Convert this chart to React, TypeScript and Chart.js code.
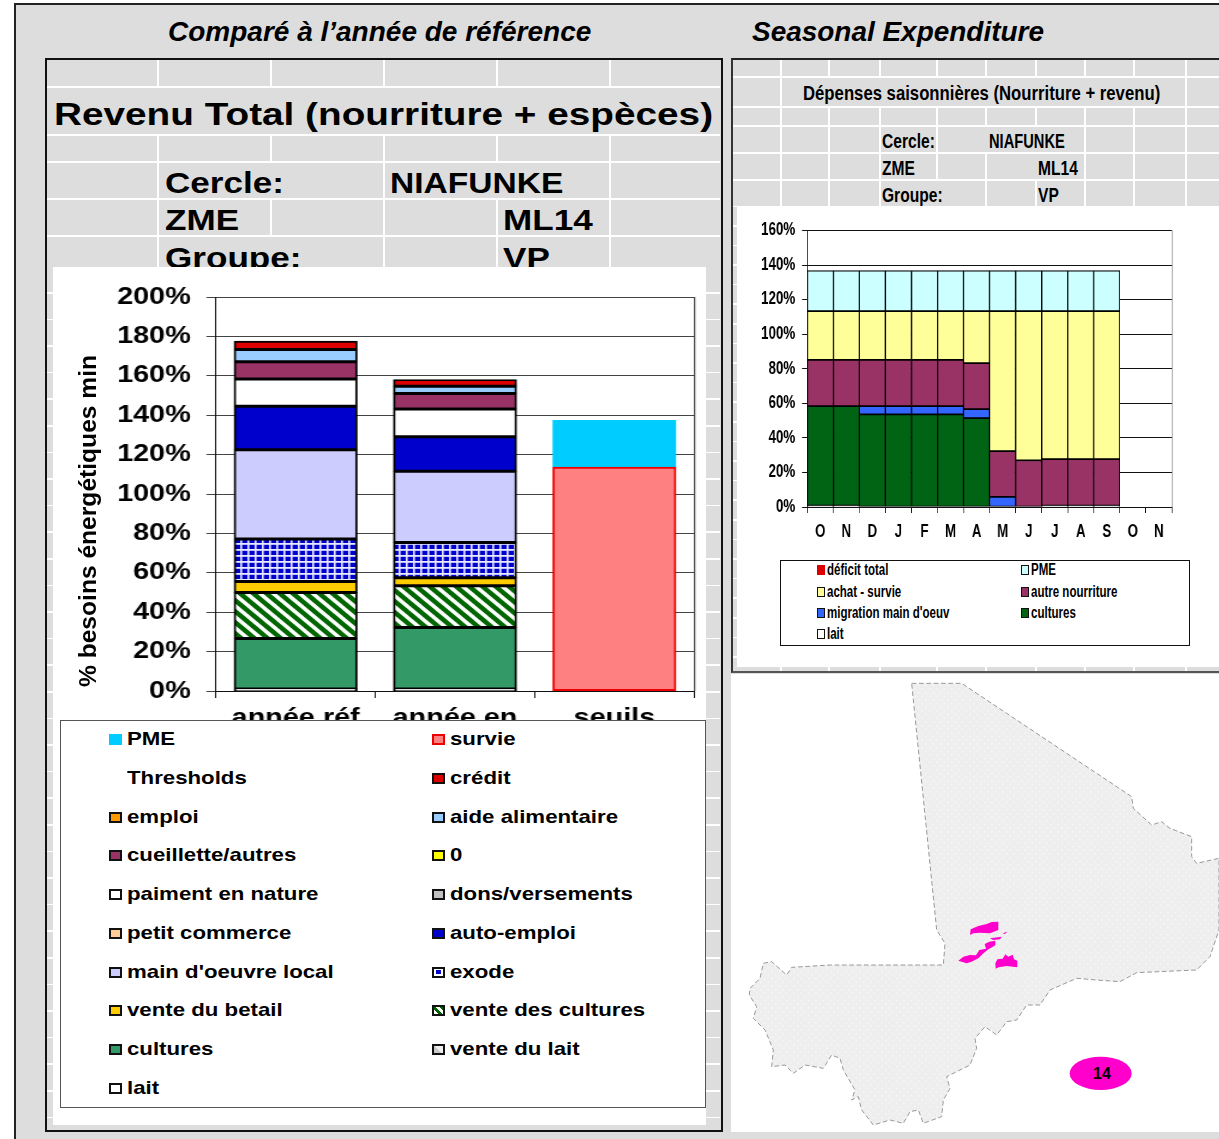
import React, { useEffect, useRef } from "react";
import { Chart, registerables } from "chart.js";

Chart.register(...registerables);

const FONT = "'Liberation Sans', Arial, sans-serif";

// ---------- left chart data ----------
const leftCategories = ["année réf", "année en", "seuils"];
const leftTicks = [0, 20, 40, 60, 80, 100, 120, 140, 160, 180, 200];
const lait = [1, 1, null];
const venteDuLait = [null, null, null];
const cultures = [25.6, 31.2, null];
const venteDesCultures = [23.4, 21.2, null];
const venteDuBetail = [5.6, 4.1, null];
const exode = [21.5, 17.9, null];
const mainOeuvre = [45.4, 36.1, null];
const petitCommerce = [null, null, null];
const autoEmploi = [22.1, 17.5, null];
const dons = [null, null, null];
const paiment = [13.8, 14.2, null];
const zero = [null, null, null];
const cueillette = [8.7, 7.8, null];
const aide = [6.2, 3.7, null];
const emploi = [null, null, null];
const credit = [4.3, 3.4, null];
const thresholds = [null, null, null];
const survie = [null, null, 113.6];
const pme = [null, null, 23.7];

// ---------- right chart data ----------
const months = ["O", "N", "D", "J", "F", "M", "A", "M", "J", "J", "A", "S", "O", "N"];
const rightTicks = [0, 20, 40, 60, 80, 100, 120, 140, 160];
const rLait = [0.8, 0.8, null, null, null, null, null, null, null, 0.8, 0.8, 0.8, null, null];
const rCultures = [57.6, 57.6, 53.6, 53.6, 53.6, 53.6, 51.4, null, null, null, null, null, null, null];
const rMigration = [null, null, 4.8, 4.8, 4.8, 4.8, 5.2, 5.8, null, null, null, null, null, null];
const rAutre = [26.8, 26.8, 26.8, 26.8, 26.8, 26.8, 26.6, 26.6, 27, 26.9, 26.9, 26.9, null, null];
const rAchat = [28.1, 28.1, 28.1, 28.1, 28.1, 28.1, 30.1, 80.9, 86.3, 85.6, 85.6, 85.6, null, null];
const rPme = [23.5, 23.5, 23.5, 23.5, 23.5, 23.5, 23.5, 23.5, 23.5, 23.5, 23.5, 23.5, null, null];
const rDeficit = months.map(() => null as number | null);

const GREEN_SWATCH = "linear-gradient(45deg,#fff 28%,#006600 28%,#006600 52%,#fff 52%,#fff 75%,#006600 75%)";
const EXODE_SWATCH = "linear-gradient(#0000cc,#0000cc) center/55% 60% no-repeat, #ffffff";
const LAIT_SWATCH = "linear-gradient(45deg,#c8c8c8 50%,#eeeeee 50%)";

type S = { label: string; data: (number | null)[]; color: string; swatch?: string; border?: string; pattern?: string };

// stacked from the bottom up; the legend reads the other way round
const leftSeries: S[] = [
  { label: "lait", data: lait, color: "#ffffff" },
  { label: "vente du lait", data: venteDuLait, color: "#c0c0c0", swatch: LAIT_SWATCH },
  { label: "cultures", data: cultures, color: "#339966" },
  { label: "vente des cultures", data: venteDesCultures, color: "#006600", swatch: GREEN_SWATCH, pattern: "diag" },
  { label: "vente du betail", data: venteDuBetail, color: "#ffcc00" },
  { label: "exode", data: exode, color: "#0000cc", swatch: EXODE_SWATCH, pattern: "grid" },
  { label: "main d'oeuvre local", data: mainOeuvre, color: "#ccccff" },
  { label: "auto-emploi", data: autoEmploi, color: "#0000cc" },
  { label: "petit commerce", data: petitCommerce, color: "#ffcc99" },
  { label: "dons/versements", data: dons, color: "#c0c0c0" },
  { label: "paiment en nature", data: paiment, color: "#ffffff" },
  { label: "0", data: zero, color: "#ffff00" },
  { label: "cueillette/autres", data: cueillette, color: "#993366" },
  { label: "aide alimentaire", data: aide, color: "#99ccff" },
  { label: "emploi", data: emploi, color: "#ff9900" },
  { label: "crédit", data: credit, color: "#dd0000" },
  { label: "Thresholds", data: thresholds, color: "transparent", border: "transparent" },
  { label: "survie", data: survie, color: "#ff8080", border: "#ee0000" },
  { label: "PME", data: pme, color: "#00ccff", border: "#00ccff" },
];

const rightSeries: S[] = [
  { label: "lait", data: rLait, color: "#ffffff" },
  { label: "cultures", data: rCultures, color: "#006414" },
  { label: "migration main d'oeuv", data: rMigration, color: "#3366ff" },
  { label: "autre nourriture", data: rAutre, color: "#993366" },
  { label: "achat - survie", data: rAchat, color: "#ffff99" },
  { label: "PME", data: rPme, color: "#ccffff" },
  { label: "déficit total", data: rDeficit, color: "#dd0000", border: "#dd0000" },
];

function makePattern(kind: string): CanvasPattern | string {
  const c = document.createElement("canvas");
  const ctx = c.getContext("2d")!;
  if (kind === "grid") {
    c.width = 6; c.height = 6;
    ctx.fillStyle = "#0000cc"; ctx.fillRect(0, 0, 6, 6);
    ctx.fillStyle = "#e8e8ff"; ctx.fillRect(0, 0, 1.6, 6); ctx.fillRect(0, 0, 6, 1.8);
  } else {
    c.width = 11; c.height = 11;
    ctx.fillStyle = "#006600"; ctx.fillRect(0, 0, 11, 11);
    ctx.strokeStyle = "#ffffff"; ctx.lineWidth = 3.4;
    for (const [a, b, d, e] of [[-2, -2, 13, 13], [-2, 9, 2, 13], [9, -2, 13, 2]]) {
      ctx.beginPath(); ctx.moveTo(a, b); ctx.lineTo(d, e); ctx.stroke();
    }
  }
  return ctx.createPattern(c, "repeat")!;
}

const rightEdge = (color: string) => ({
  id: "rightEdge",
  afterDatasetsDraw(chart: any) {
    const { ctx, chartArea: a } = chart;
    ctx.save(); ctx.strokeStyle = color; ctx.lineWidth = 1;
    ctx.beginPath(); ctx.moveTo(a.right + 0.5, a.top); ctx.lineTo(a.right + 0.5, a.bottom); ctx.stroke();
    ctx.restore();
  },
});

function buildChart(canvas: HTMLCanvasElement, cfg: {
  labels: string[]; series: S[]; ticks: number[]; max: number; size: number; bar: number; border: number; inflate: number;
  axisW: number; axisH: number; top: number; right: number; yTick: number; yPad: number; xTick: number; xPad: number; grid: string; edge: string;
}) {
  return new Chart(canvas, {
    type: "bar",
    data: {
      labels: cfg.labels,
      datasets: cfg.series.map((s) => ({
        label: s.label,
        data: s.data,
        backgroundColor: s.pattern ? makePattern(s.pattern) : s.color,
        borderColor: s.border ?? "#000000",
        borderWidth: cfg.border,
        borderSkipped: false,
        inflateAmount: cfg.inflate,
        barPercentage: cfg.bar,
        categoryPercentage: 1,
      })),
    } as any,
    options: {
      animation: false,
      responsive: false,
      maintainAspectRatio: false,
      devicePixelRatio: 1,
      layout: { padding: { top: cfg.top, right: cfg.right, left: 0, bottom: 0 } },
      plugins: { legend: { display: false }, title: { display: false }, tooltip: { enabled: false } },
      scales: {
        x: {
          stacked: true,
          grid: { drawOnChartArea: false, color: "#111", tickLength: cfg.xTick },
          border: { color: "#111" },
          ticks: { color: "#000", padding: cfg.xPad, maxRotation: 0, autoSkip: false, font: { family: FONT, weight: "bold", size: cfg.size } },
          afterFit: (s: any) => { s.height = cfg.axisH; },
        },
        y: {
          stacked: true,
          min: 0,
          max: cfg.max,
          grid: { color: cfg.grid, tickLength: cfg.yTick },
          border: { color: "#111" },
          afterBuildTicks: (s: any) => { s.ticks = cfg.ticks.map((v) => ({ value: v })); },
          ticks: { color: "#000", padding: cfg.yPad, callback: (v: any) => `${v}%`, font: { family: FONT, weight: "bold", size: cfg.size } },
          afterFit: (s: any) => { s.width = cfg.axisW; },
        },
      },
    } as any,
    plugins: [rightEdge(cfg.edge)],
  });
}

const abs = (left: number, top: number, width: number, height: number, extra: React.CSSProperties = {}): React.CSSProperties => ({
  position: "absolute", left, top, width, height, ...extra,
});

function T({ x, y, s, size, sx, italic }: { x: number; y: number; s: string; size: number; sx: number; italic?: boolean }) {
  // y = vertical centre of the line
  return (
    <span style={{
      position: "absolute", left: x, top: y - size * 0.6, height: size * 1.2, lineHeight: `${size * 1.2}px`,
      fontFamily: FONT, fontWeight: "bold", fontStyle: italic ? "italic" : "normal", fontSize: size, color: "#000",
      whiteSpace: "nowrap", transform: `scaleX(${sx})`, transformOrigin: "0 50%",
    }}>{s}</span>
  );
}

function Lines({ rows, x0, x1, w }: { rows: [number, number, number[]][]; x0: number; x1: number; w: number }) {
  const out: React.ReactNode[] = [];
  rows.forEach(([a, b, vs], i) => {
    out.push(<div key={`h${i}`} style={abs(x0, b - w / 2, x1 - x0, w, { background: "#fff" })} />);
    vs.forEach((v) => out.push(<div key={`v${i}-${v}`} style={abs(v - w / 2, a, w, b - a, { background: "#fff" })} />));
  });
  return <>{out}</>;
}

const LEFT_V = [158, 271, 384, 497, 610];
const RIGHT_V = [781, 829, 880, 937, 986, 1036, 1085, 1134, 1186];

const mapOutline = "545,10 695,10 1205,350 1210,385 1265,435 1295,425 1320,445 1385,470 1385,530 1400,550 1467,535 1467,750 1440,830 1400,870 1220,878 1170,905 1100,900 1040,895 960,930 930,975 890,975 860,1020 830,1025 800,1065 765,1040 735,1075 740,1105 720,1155 650,1190 660,1225 640,1260 635,1310 580,1330 565,1290 540,1295 520,1330 480,1320 430,1335 395,1290 385,1250 365,1260 375,1230 340,1170 330,1135 305,1125 280,1165 225,1155 190,1180 165,1155 125,1160 130,1110 105,1050 70,1015 80,980 58,945 60,925 90,895 100,850 125,845 170,885 185,862 300,855 640,855 645,790 620,750 545,10";
const zoneBlobs = [
  "720,765 722,748 745,738 770,732 785,726 805,725 805,750 780,760 750,758 730,760",
  "685,842 700,830 720,825 738,826 748,810 768,806 764,792 778,785 796,782 796,796 772,810 758,822 745,835 725,845 710,850",
  "797,866 796,850 802,838 818,836 826,823 835,830 848,824 852,838 862,842 862,862 830,858 806,862",
  "780,775 815,770 810,778 790,780",
  "818,760 832,755 825,762",
];

function Legend({ series, sx, size, colX, textGap, rowY, sw, bw }: { series: S[]; sx: number; size: number; colX: number[]; textGap: number; rowY: number[]; sw: [number, number]; bw: number }) {
  const items = [...series].reverse();
  return (
    <>
      {items.map((s, i) => {
        const col = i % 2, row = Math.floor(i / 2);
        const y = rowY[row], x = colX[col];
        const noBorder = s.border === s.color;
        const hidden = s.color === "transparent";
        return (
          <React.Fragment key={s.label}>
            {!hidden && (
              <div style={abs(x, y - sw[1] / 2, sw[0], sw[1], {
                boxSizing: "border-box",
                background: s.swatch ?? s.color,
                border: noBorder ? "none" : `${bw}px solid ${s.border && s.border !== "transparent" ? s.border : "#111"}`,
              })} />
            )}
            <T x={x + textGap} y={y} s={s.label} size={size} sx={sx} />
          </React.Fragment>
        );
      })}
    </>
  );
}

export default function App() {
  const leftRef = useRef<HTMLCanvasElement>(null);
  const rightRef = useRef<HTMLCanvasElement>(null);

  useEffect(() => {
    const a = buildChart(leftRef.current!, {
      labels: leftCategories, series: leftSeries, ticks: leftTicks, max: 200, size: 24, bar: 0.772, border: 1.9, inflate: 0.4,
      axisW: 135.8, axisH: 29, top: 30, right: 9.8, yTick: 8, yPad: 13, xTick: 7, xPad: 6, grid: "#444", edge: "#222",
    });
    const b = buildChart(rightRef.current!, {
      labels: months, series: rightSeries, ticks: rightTicks, max: 160, size: 17.5, bar: 1, border: 1.2, inflate: 0.33,
      axisW: 92.5, axisH: 40, top: 23.5, right: 61.8, yTick: 7, yPad: 9, xTick: 6, xPad: 9, grid: "#111", edge: "#777",
    });
    return () => { a.destroy(); b.destroy(); };
  }, []);

  return (
    <div style={{ position: "relative", width: 1219, height: 1139, overflow: "hidden", background: "#fff" }}>
      <style>{"html,body{margin:0;padding:0;overflow:hidden}"}</style>

      {/* outer sheet */}
      <div style={abs(14, 3, 1210, 1140, { background: "#dddddd", borderLeft: "2px solid #222", borderTop: "2px solid #222", boxSizing: "border-box" })} />
      <T x={168} y={32} s="Comparé à l’année de référence" size={27} sx={1.037} italic />
      <T x={752} y={32} s="Seasonal Expenditure" size={27} sx={1.035} italic />

      {/* left panel */}
      <div style={abs(45, 58, 678, 1074, { background: "#dddddd", border: "2px solid #111", boxSizing: "border-box" })} />
      <Lines x0={47} x1={720} w={2} rows={[
        [60, 87, LEFT_V], [87, 135, []], [135, 162, LEFT_V], [162, 199, [158, 384, 610]],
        [199, 236, LEFT_V], [236, 268, [158, 384, 497, 610]],
      ]} />
      <T x={54} y={114} s="Revenu Total (nourriture + espèces)" size={30.5} sx={1.27} />
      <T x={165} y={183} s="Cercle:" size={30} sx={1.17} />
      <T x={390} y={183} s="NIAFUNKE" size={30} sx={1.118} />
      <T x={165} y={220} s="ZME" size={30} sx={1.17} />
      <T x={503} y={220} s="ML14" size={30} sx={1.17} />
      <T x={165} y={258} s="Groupe:" size={30} sx={1.17} />
      <T x={503} y={258} s="VP" size={30} sx={1.17} />

      {/* left side strips and chart */}
      <div style={abs(47, 267, 6, 858, { background: "repeating-linear-gradient(180deg,#dddddd 0,#dddddd 25px,#fff 25px,#fff 26.6px)" })} />
      <div style={abs(706, 267, 14, 858, { background: "repeating-linear-gradient(180deg,#dddddd 0,#dddddd 25px,#fff 25px,#fff 26.6px)" })} />
      <div style={abs(53, 267, 653, 858, { background: "#fff" })} />
      <div style={abs(53, 267, 544.2, 453, { transform: "scaleX(1.2)", transformOrigin: "0 0" })}>
        <canvas ref={leftRef} width={544} height={453} style={{ display: "block" }} />
      </div>
      <span style={{
        position: "absolute", left: 88, top: 521, fontFamily: FONT, fontWeight: "bold", fontSize: 24.6, color: "#000", whiteSpace: "nowrap",
        lineHeight: "28px", transform: "translate(-50%,-50%) rotate(-90deg)",
      }}>% besoins énergétiques min</span>
      <div style={abs(60, 720, 646, 388, { background: "#fff", border: "1px solid #555", boxSizing: "border-box" })} />
      <Legend series={leftSeries} sx={1.17} size={19} colX={[109, 432]} textGap={18} sw={[13, 11]} bw={2}
        rowY={[739, 778, 817, 855, 894, 933, 972, 1010, 1049, 1088]} />

      {/* right panel */}
      <div style={abs(731, 58, 500, 615, { background: "#dddddd", borderLeft: "2px solid #333", borderTop: "2px solid #222", borderBottom: "2px solid #555", boxSizing: "border-box" })} />
      <Lines x0={733} x1={1219} w={1.5} rows={[
        [60, 77, RIGHT_V], [77, 107, [781, 1186]], [107, 126, RIGHT_V], [126, 153, [781, 829, 880, 937, 1085, 1134, 1186]],
        [153, 180, [781, 829, 880, 937, 986, 1085, 1134, 1186]], [180, 207, [781, 829, 880, 986, 1036, 1085, 1134, 1186]],
      ]} />
      {RIGHT_V.map((v) => <div key={v} style={abs(v - 0.75, 667, 1.5, 4, { background: "#fff" })} />)}
      <T x={803} y={93} s="Dépenses saisonnières (Nourriture + revenu)" size={21} sx={0.796} />
      <T x={882} y={141} s="Cercle:" size={20.5} sx={0.76} />
      <T x={989} y={141} s="NIAFUNKE" size={20.5} sx={0.716} />
      <T x={882} y={168} s="ZME" size={20.5} sx={0.76} />
      <T x={1038} y={168} s="ML14" size={20.5} sx={0.76} />
      <T x={882} y={195} s="Groupe:" size={20.5} sx={0.76} />
      <T x={1038} y={195} s="VP" size={20.5} sx={0.76} />
      <div style={abs(733, 207, 4, 460, { background: "repeating-linear-gradient(180deg,#dddddd 0,#dddddd 18px,#fff 18px,#fff 19.6px)" })} />
      <div style={abs(737, 207, 482, 460, { background: "#fff" })} />
      <div style={abs(737, 207, 634.2, 340, { transform: "scaleX(0.76)", transformOrigin: "0 0" })}>
        <canvas ref={rightRef} width={634} height={340} style={{ display: "block" }} />
      </div>
      <div style={abs(780, 560, 410, 86, { background: "#fff", border: "1px solid #111", boxSizing: "border-box" })} />
      <Legend series={rightSeries} sx={0.72} size={16} colX={[817, 1021]} textGap={10} sw={[8, 10]} bw={1}
        rowY={[570, 592, 613, 634]} />

      {/* map */}
      <div style={abs(731, 674, 500, 458, { background: "#fff" })} />
      <svg width={489} height={459} viewBox="0 0 1467 1377" style={{ position: "absolute", left: 730, top: 680 }}>
        <defs>
          <pattern id="mapDots" width="22" height="22" patternUnits="userSpaceOnUse">
            <rect width="22" height="22" fill="#eeeeee" />
            <circle cx="5" cy="5" r="2" fill="#fff" />
            <circle cx="16" cy="16" r="2" fill="#fff" />
          </pattern>
        </defs>
        <polygon points={mapOutline} fill="url(#mapDots)" stroke="#999" strokeWidth={3} strokeDasharray="14 8" />
        {zoneBlobs.map((p) => <polygon key={p} points={p} fill="#ff00cc" />)}
        <ellipse cx={1112} cy={1180} rx={93} ry={50} fill="#ff00cc" />
        <text x={1116} y={1197} textAnchor="middle" fontFamily={FONT} fontWeight="bold" fontSize={48} fill="#000">14</text>
      </svg>
    </div>
  );
}
